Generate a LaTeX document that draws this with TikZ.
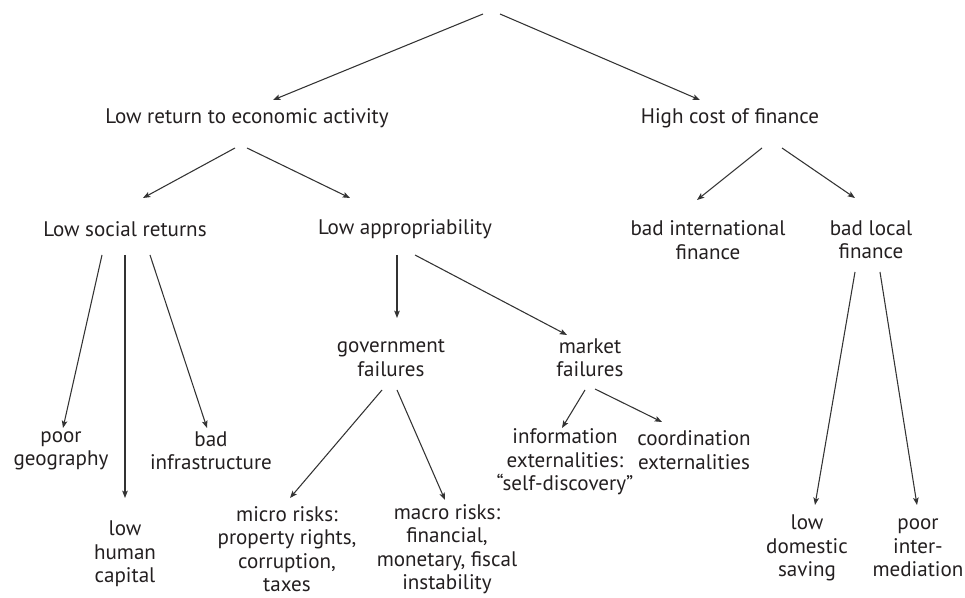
\documentclass[tikz,border=0pt]{standalone}
\usepackage{fontspec}
\setmainfont{PT Sans}
\usetikzlibrary{arrows.meta,calc}
\definecolor{ink}{HTML}{231F20}
\definecolor{wire}{HTML}{333333}
\begin{document}
\begin{tikzpicture}[x=0.75pt,y=-0.75pt,
  lbl/.style={align=center,inner sep=0pt,text=ink,
    font=\fontsize{15.8}{17.6}\selectfont},
  arr/.style={draw=wire,line width=0.8pt,-{Stealth[length=5.5pt,width=4.2pt,inset=1.2pt]}}]
\useasboundingbox (0,0) rectangle (965,598);

% free ends of the two top connectors
\coordinate (rootl) at (483,14);
\coordinate (rootr) at (500,14);

% level 1
\node[lbl] (lr) at (247,118) {Low return to economic activity};
\node[lbl] (hc) at (730,118) {High cost of finance};

% level 2
\node[lbl] (lsr) at (125,229) {Low social returns};
\node[lbl] (la)  at (405,229) {Low appropriability};
\node[lbl] (bif) at (708,240) {bad international\\finance};
\node[lbl] (blf) at (871,240) {bad local\\finance};

% level 3
\node[lbl] (gf) at (391,358) {government\\failures};
\node[lbl] (mf) at (590,358) {market\\failures};

% leaves
\node[lbl] (pg)  at (61,451)  {poor\\geography};
\node[lbl] (bi)  at (211,451) {bad\\infrastructure};
\node[lbl] (lhc) at (125,554) {low\\human\\capital};
\node[lbl] (mic) at (287,549) {micro risks:\\property rights,\\corruption,\\taxes};
\node[lbl] (mac) at (447,549) {macro risks:\\financial,\\monetary, fiscal\\instability};
\node[lbl] (ie)  at (565,462) {information\\externalities:\\“self-discovery”};
\node[lbl] (ce)  at (694,450) {coordination\\externalities};
\node[lbl] (lds) at (807,548) {low\\domestic\\saving};
\node[lbl] (pim) at (918,548) {poor\\inter-\\mediation};

% connectors
\draw[arr] (rootl) -- ($(lr)+(26,-18)$);
\draw[arr] (rootr) -- ($(hc)+(-30,-18)$);

\draw[arr] ($(lr)+(-12,30)$) -- ($(lsr)+(18,-31)$);
\draw[arr] ($(lr)+(0,30)$)   -- ($(la)+(-55,-31)$);
\draw[arr] ($(hc)+(32,30)$)  -- ($(bif)+(-11,-40)$);
\draw[arr] ($(hc)+(52,30)$)  -- ($(blf)+(-16,-42)$);

\draw[arr] ($(lsr)+(-23,26)$) -- ($(pg)+(2,-23)$);
\draw[arr] ($(lsr)+(0,26)$)   -- ($(lhc)+(0,-56)$);
\draw[arr] ($(lsr)+(25,26)$)  -- ($(bi)+(-4,-23)$);

\draw[arr] ($(la)+(-8,26)$) -- ($(gf)+(6,-40)$);
\draw[arr] ($(la)+(10,26)$) -- ($(mf)+(-23,-23)$);

\draw[arr] ($(gf)+(-9,32)$) -- ($(mic)+(3,-51)$);
\draw[arr] ($(gf)+(6,32)$)  -- ($(mac)+(-2,-49)$);

\draw[arr] ($(mf)+(-5,32)$) -- ($(ie)+(-3,-34)$);
\draw[arr] ($(mf)+(5,31)$)  -- ($(ce)+(-32,-28)$);

\draw[arr] ($(blf)+(-16,32)$) -- ($(lds)+(8,-43)$);
\draw[arr] ($(blf)+(9,32)$)   -- ($(pim)+(-1,-43)$);
\end{tikzpicture}
\end{document}
